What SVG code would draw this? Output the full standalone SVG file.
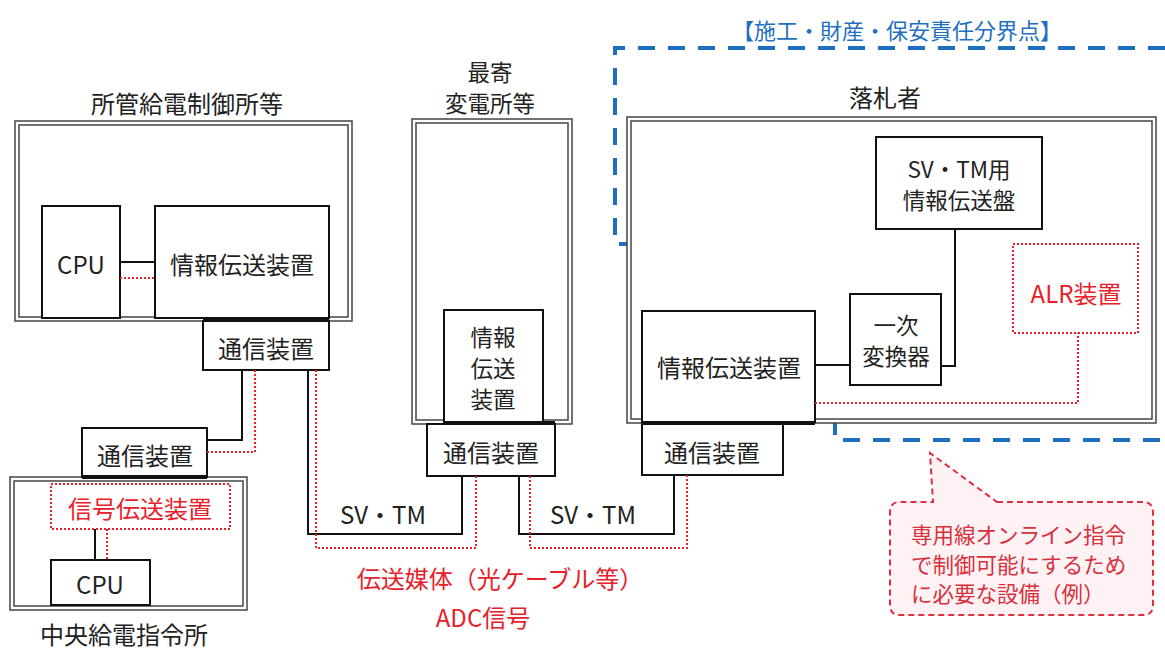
<svg xmlns="http://www.w3.org/2000/svg" width="1165" height="650" viewBox="0 0 1165 650">
<style>
.t{font-family:"Noto Sans CJK JP","Noto Sans",sans-serif;font-size:24px;fill:#222;text-anchor:middle;dominant-baseline:central}
.st{font-size:22.5px}
.red{fill:#e8202a}
.blue{fill:#1f6fc0}
.bo{fill:#fff;stroke:#444;stroke-width:1.5}
.bi{fill:none;stroke:#444;stroke-width:1.5}
.box{fill:#fff;stroke:#111;stroke-width:2}
.ln{fill:none;stroke:#111;stroke-width:2}
.dot{fill:none;stroke:#e8202a;stroke-width:2;stroke-dasharray:2 2}
.bar{stroke:#111;stroke-width:4}
.bd{fill:none;stroke:#1f6fc0;stroke-width:4;stroke-dasharray:17 13}
.co{font-size:21.5px;fill:#d8303c;text-anchor:start}
</style>
<rect width="1165" height="650" fill="#fff"/>

<g id="boundary">
<path class="bd" d="M1165 48 H615 V244 H835 V440 H1165"/>
<text class="t blue" x="897" y="29" style="font-size:22px">【施工・財産・保安責任分界点】</text>
</g>

<g id="kyuden">
<text class="t" x="187" y="102">所管給電制御所等</text>
<rect class="bo" x="15" y="121" width="337" height="200"/>
<rect class="bi" x="19" y="125" width="329" height="192"/>
</g>
<g id="cpu1"><rect class="box" x="42" y="206" width="78" height="112"/><text class="t" x="81" y="263">CPU</text></g>
<g id="info1"><rect class="box" x="155" y="206" width="174" height="112"/><text class="t" x="242" y="263">情報伝送装置</text></g>
<g id="comm1"><rect class="box" x="203" y="321" width="126" height="49"/><text class="t" x="266" y="347">通信装置</text></g>

<g id="chuo">
<rect class="bo" x="10" y="477" width="237" height="133"/>
<rect class="bi" x="14" y="481" width="229" height="125"/>
<text class="t" x="124" y="633">中央給電指令所</text>
</g>
<g id="comm2"><rect class="box" x="82" y="428" width="125" height="49"/><text class="t" x="145" y="454">通信装置</text></g>
<g id="sig"><rect x="51" y="484" width="179" height="45" fill="#fff" stroke="#e8202a" stroke-width="2" stroke-dasharray="2 2"/><text class="t red" x="140" y="507">信号伝送装置</text></g>
<g id="cpu2"><rect class="box" x="51" y="560" width="99" height="45"/><text class="t" x="100" y="583">CPU</text></g>

<g id="hendensho">
<text class="t st" x="490" y="71">最寄<tspan x="490" dy="31">変電所等</tspan></text>
<rect class="bo" x="412" y="119" width="160" height="305"/>
<rect class="bi" x="416" y="123" width="152" height="297"/>
</g>
<g id="info2"><rect class="box" x="444" y="310" width="99" height="112"/>
<text class="t st" x="493" y="336">情報<tspan x="493" dy="31">伝送</tspan><tspan x="493" dy="31">装置</tspan></text></g>
<g id="comm3"><rect class="box" x="427" y="424" width="128" height="52"/><text class="t" x="491" y="451">通信装置</text></g>

<g id="rakusatsu">
<text class="t" x="885" y="96">落札者</text>
<rect class="bo" x="627" y="117" width="529" height="306"/>
<rect class="bi" x="631" y="121" width="521" height="298"/>
</g>
<g id="svtm"><rect class="box" x="876" y="137" width="166" height="92"/>
<text class="t st" x="959" y="168">SV・TM用<tspan x="959" dy="31">情報伝送盤</tspan></text></g>
<g id="conv"><rect class="box" x="850" y="294" width="91" height="91"/>
<text class="t st" x="896" y="324">一次<tspan x="896" dy="31">変換器</tspan></text></g>
<g id="alr"><rect x="1013" y="244" width="125" height="89" fill="#fff" stroke="#e8202a" stroke-width="2" stroke-dasharray="2 2"/><text class="t red" x="1076" y="292">ALR装置</text></g>
<g id="info3"><rect class="box" x="642" y="311" width="173" height="111"/><text class="t" x="729" y="366">情報伝送装置</text></g>
<g id="comm4"><rect class="box" x="642" y="424" width="141" height="51"/><text class="t" x="712" y="451">通信装置</text></g>

<g id="connectors">
<line class="ln" x1="120" y1="262" x2="155" y2="262"/>
<line class="dot" x1="120" y1="278" x2="155" y2="278"/>
<path class="ln" d="M242 370 V440 H207"/>
<path class="dot" d="M255 370 V452 H207"/>
<line class="ln" x1="95" y1="529" x2="95" y2="560"/>
<line class="dot" x1="107" y1="529" x2="107" y2="560"/>
<path class="ln" d="M308 370 V534 H462 V476"/>
<path class="dot" d="M316 370 V548 H476 V476"/>
<path class="ln" d="M519 476 V534 H674 V475"/>
<path class="dot" d="M530 476 V548 H687 V475"/>
<line class="ln" x1="815" y1="365" x2="850" y2="365"/>
<path class="ln" d="M955 229 V366 H941"/>
<path class="dot" d="M815 403 H1078 V333"/>
<line class="bar" x1="203" y1="320" x2="329" y2="320"/>
<line class="bar" x1="82" y1="477" x2="207" y2="477"/>
<line class="bar" x1="444" y1="423" x2="555" y2="423"/>
<line class="bar" x1="642" y1="423" x2="815" y2="423"/>
</g>

<g id="labels">
<text class="t" x="383" y="513">SV・TM</text>
<text class="t" x="593" y="513">SV・TM</text>
<text class="t red" x="500" y="577">伝送媒体（光ケーブル等）</text>
<text class="t red" x="483" y="616">ADC信号</text>
</g>

<g id="callout">
<path d="M997 502 H1143 Q1153 502 1153 512 V605 Q1153 615 1143 615 H900 Q890 615 890 605 V512 Q890 502 900 502 H933 L930 453 Z" fill="#fff2f4" stroke="#e03040" stroke-width="2" stroke-dasharray="6 4"/>
<text class="t co" x="911" y="533">専用線オンライン指令<tspan x="911" dy="30">で制御可能にするため</tspan><tspan x="911" dy="29">に必要な設備（例）</tspan></text>
</g>
</svg>
